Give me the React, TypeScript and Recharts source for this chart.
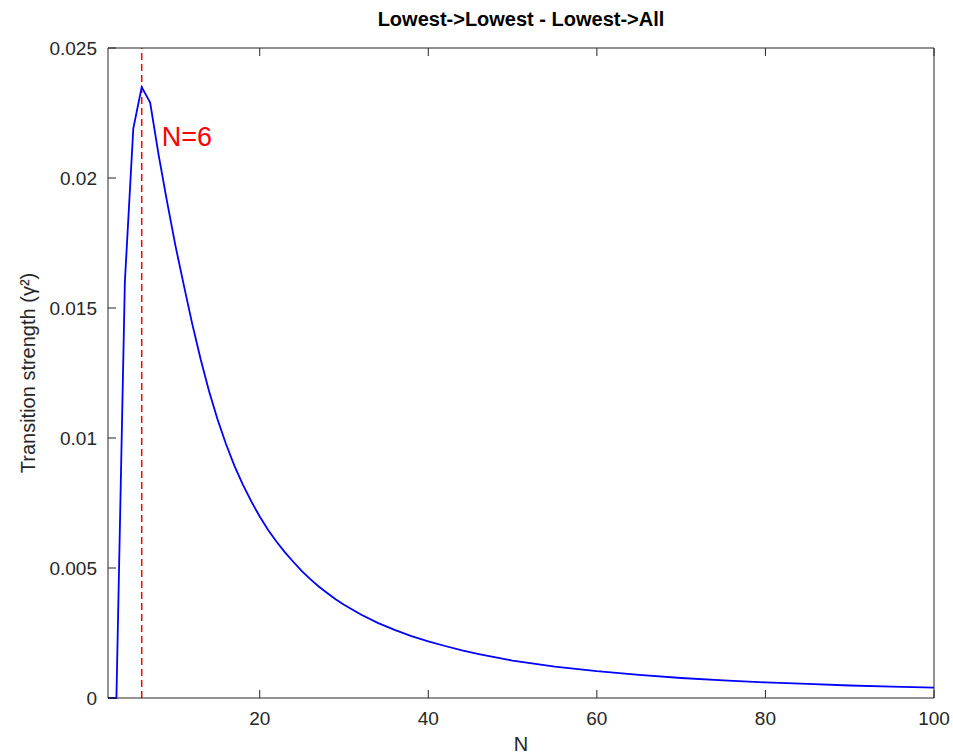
import { LineChart, Line, XAxis, YAxis, ReferenceLine, ReferenceDot } from "recharts";

const N_VALUES = [
  2, 3, 4, 5, 6, 7, 8, 9, 10, 11, 12, 13, 14, 15, 16, 17, 18, 19, 20, 21, 22, 23, 24, 25, 26, 27, 28, 29, 30,
  32, 34, 36, 38, 40, 42, 44, 46, 48, 50, 55, 60, 65, 70, 75, 80, 85, 90, 95, 100,
];
const STRENGTH = [
  0, 0, 0.016, 0.0219, 0.0235, 0.0229, 0.0209, 0.0191, 0.0174, 0.01587, 0.01438, 0.01302, 0.01179, 0.01071,
  0.00977, 0.00893, 0.00821, 0.00756, 0.00698, 0.00646, 0.00601, 0.0056, 0.00523, 0.00488, 0.00457, 0.00429,
  0.00404, 0.0038, 0.00359, 0.00321, 0.00289, 0.00262, 0.00238, 0.00218, 0.002, 0.00183, 0.00169, 0.00156,
  0.00144, 0.00121, 0.00103, 0.00089, 0.00077, 0.00068, 0.0006, 0.00054, 0.00048, 0.00044, 0.0004,
];
const X_TICKS = [20, 40, 60, 80, 100];
const Y_TICKS = [0, 0.005, 0.01, 0.015, 0.02, 0.025];
const PEAK_N = 6;

const data = N_VALUES.map((n, i) => ({ n, v: STRENGTH[i] }));

const AXIS = "#262626";
const FONT = "'Liberation Sans', Arial, Helvetica, sans-serif";
const TICK_LEN = 8;

// matlab style: tick marks point into the plot box
function BottomTick({ x, y, payload }: any) {
  return (
    <g>
      <line x1={x} y1={y} x2={x} y2={y - TICK_LEN} stroke={AXIS} />
      <text x={x} y={y + 27} textAnchor="middle" fill={AXIS} fontSize={19} fontFamily={FONT}>
        {payload.value}
      </text>
    </g>
  );
}

function LeftTick({ x, y, payload }: any) {
  return (
    <g>
      <line x1={x} y1={y} x2={x + TICK_LEN} y2={y} stroke={AXIS} />
      <text x={x - 11} y={y + 7} textAnchor="end" fill={AXIS} fontSize={19} fontFamily={FONT}>
        {String(payload.value)}
      </text>
    </g>
  );
}

function TopTick({ x, y }: any) {
  return <line x1={x} y1={y} x2={x} y2={y + TICK_LEN} stroke={AXIS} />;
}

function RightTick({ x, y }: any) {
  return <line x1={x} y1={y} x2={x - TICK_LEN} y2={y} stroke={AXIS} />;
}

export default function App() {
  return (
    <div style={{ position: "absolute", left: 0, top: 0, background: "#fff" }}>
      <LineChart width={953} height={756} data={data} margin={{ top: 0, right: 0, bottom: 0, left: 0 }}>
        <XAxis
          dataKey="n"
          type="number"
          domain={[2, 100]}
          ticks={X_TICKS}
          height={58}
          stroke={AXIS}
          tickLine={false}
          tickSize={0}
          tickMargin={0}
          tick={<BottomTick />}
          label={{ value: "N", position: "insideBottom", offset: 5, fill: AXIS, fontSize: 20, fontFamily: FONT }}
        />
        <XAxis
          xAxisId="top"
          orientation="top"
          dataKey="n"
          type="number"
          domain={[2, 100]}
          ticks={X_TICKS}
          height={48}
          stroke={AXIS}
          tickLine={false}
          tickSize={0}
          tickMargin={0}
          tick={<TopTick />}
          label={{
            value: "Lowest->Lowest - Lowest->All",
            position: "insideTop",
            offset: 12,
            fill: "#000",
            fontSize: 20,
            fontWeight: "bold",
            fontFamily: FONT,
          }}
        />
        <YAxis
          type="number"
          domain={[0, 0.025]}
          ticks={Y_TICKS}
          width={108}
          stroke={AXIS}
          tickLine={false}
          tickSize={0}
          tickMargin={0}
          tick={<LeftTick />}
          label={{
            value: "Transition strength (γ²)",
            angle: -90,
            position: "insideLeft",
            offset: 28,
            fill: AXIS,
            fontSize: 20,
            fontFamily: FONT,
            style: { textAnchor: "middle" },
          }}
        />
        <YAxis
          yAxisId="right"
          orientation="right"
          type="number"
          domain={[0, 0.025]}
          ticks={Y_TICKS}
          width={19}
          stroke={AXIS}
          tickLine={false}
          tickSize={0}
          tickMargin={0}
          tick={<RightTick />}
        />
        <ReferenceLine x={PEAK_N} stroke="#ff0000" strokeWidth={1.5} strokeDasharray="7 4" />
        <Line
          dataKey="v"
          stroke="#0000ff"
          strokeWidth={1.8}
          dot={false}
          isAnimationActive={false}
          type="linear"
        />
        <ReferenceDot
          x={PEAK_N}
          y={0.0216}
          r={0}
          fill="none"
          stroke="none"
          label={{ value: "N=6", position: "right", offset: 20, fill: "#ff0000", fontSize: 27, fontFamily: FONT }}
        />
      </LineChart>
    </div>
  );
}
